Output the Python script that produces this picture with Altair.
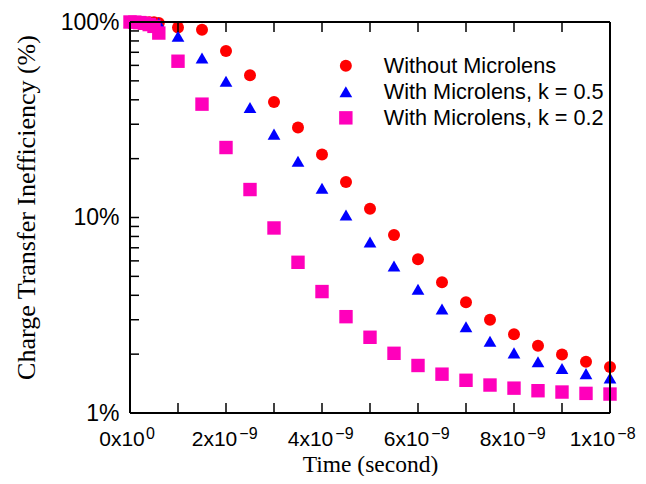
import json
import altair as alt
import pandas as pd

# ---- data ----
times_ns = [0, 0.1, 0.2, 0.3, 0.4, 0.5, 0.6, 1.0, 1.5, 2.0, 2.5, 3.0, 3.5, 4.0, 4.5,
            5.0, 5.5, 6.0, 6.5, 7.0, 7.5, 8.0, 8.5, 9.0, 9.5, 10.0]
without_microlens = [100, 100, 100, 99.9, 99.8, 99.6, 98.8, 93.6, 91.4, 71.1, 53.4, 39.0, 28.9,
                     21.0, 15.2, 11.1, 8.14, 6.12, 4.67, 3.69, 3.0, 2.53, 2.21, 1.99, 1.83, 1.72]
with_k05 = [100, 100, 100, 99.8, 99.5, 99.0, 98.5, 84.5, 65.5, 49.8, 36.5, 26.7, 19.4,
            14.1, 10.3, 7.5, 5.65, 4.30, 3.40, 2.76, 2.33, 2.03, 1.83, 1.69, 1.59, 1.51]
with_k02 = [100, 99.8, 99.3, 98.5, 97.0, 95.0, 87.8, 63.0, 38.0, 22.8, 13.9, 8.84, 5.9,
            4.18, 3.11, 2.44, 2.02, 1.75, 1.58, 1.47, 1.39, 1.34, 1.30, 1.28, 1.26, 1.25]

series_names = ["Without Microlens", "With Microlens, k = 0.5", "With Microlens, k = 0.2"]
series_colors = ["#ff0000", "#0000ff", "#ff00bb"]
series_shapes = ["circle", "triangle-up", "square"]
series_sizes = [144, 180, 121]

x_tick_values = [0, 2e-9, 4e-9, 6e-9, 8e-9, 1e-8]
x_tick_mantissa = ["0x10", "2x10", "4x10", "6x10", "8x10", "1x10"]
x_tick_exponent = ["0", "\u22129", "\u22129", "\u22129", "\u22129", "\u22128"]
x_minor_ticks = [0, 1e-9, 2e-9, 3e-9, 4e-9, 5e-9, 6e-9, 7e-9, 8e-9, 9e-9, 1e-8]
y_tick_values = [1, 10, 100]
y_tick_labels = ["1%", "10%", "100%"]
y_minor_ticks = [1, 2, 3, 4, 5, 6, 7, 8, 9, 10, 20, 30, 40, 50, 60, 70, 80, 90, 100]

W, H = 480, 391

rows = []
for name, vals in zip(series_names, [without_microlens, with_k05, with_k02]):
    for t, v in zip(times_ns, vals):
        rows.append({"series": name, "time": t * 1e-9, "cti": v})
df = pd.DataFrame(rows)

x_scale = alt.Scale(domain=[0, 1e-8], nice=False, zero=False)
y_scale = alt.Scale(type="log", domain=[1, 100], nice=False)

y_label_expr = json.dumps(y_tick_labels) + "[round(log(datum.value) / log(10))]"

x_axis = alt.Axis(values=x_tick_values, labels=False, ticks=False,
                  domain=False, grid=False,
                  title="Time (second)", titleFont="Liberation Serif",
                  titleFontSize=23.5, titleFontWeight="normal", titleColor="black",
                  titleX=W / 2, titleY=58, titleAlign="center", titleBaseline="alphabetic")
y_axis = alt.Axis(values=y_tick_values, labelExpr=y_label_expr, ticks=False,
                  domain=False, grid=False, labelFont="Liberation Sans",
                  labelFontSize=23, labelColor="black", labelPadding=11,
                  labelFlush=False, labelOverlap=False,
                  title="Charge Transfer Inefficiency (%)",
                  titleFont="Liberation Serif", titleFontSize=26,
                  titleFontWeight="normal", titleColor="black",
                  titleX=-104, titleY=185, titleAngle=270, titleAlign="center",
                  titleBaseline="middle")

legend = alt.Legend(title=None, orient="none", legendX=205, legendY=33,
                    labelFont="Liberation Sans", labelFontSize=21.7, labelColor="black",
                    labelLimit=400, labelOffset=27, rowPadding=3, padding=0,
                    symbolStrokeWidth=0, symbolSize=115, symbolOpacity=1)

points = alt.Chart(df).mark_point(filled=True, opacity=1, strokeWidth=0).encode(
    x=alt.X("time:Q", scale=x_scale, axis=x_axis),
    y=alt.Y("cti:Q", scale=y_scale, axis=y_axis),
    color=alt.Color("series:N", scale=alt.Scale(domain=series_names, range=series_colors),
                    legend=legend),
    shape=alt.Shape("series:N", scale=alt.Scale(domain=series_names, range=series_shapes),
                    legend=legend),
    size=alt.Size("series:N", scale=alt.Scale(domain=series_names, range=series_sizes),
                  legend=None),
)

xt = pd.DataFrame({"time": x_minor_ticks})
yt = pd.DataFrame({"cti": y_minor_ticks})
xl = pd.DataFrame({"time": x_tick_values, "mant": x_tick_mantissa, "expo": x_tick_exponent})

tick_style = dict(color="black", strokeWidth=1.5)
x_ticks_bottom = alt.Chart(xt).mark_rule(**tick_style).encode(
    x=alt.X("time:Q", scale=x_scale, axis=x_axis), y=alt.value(H), y2=alt.value(H - 10))
x_ticks_top = alt.Chart(xt).mark_rule(**tick_style).encode(
    x=alt.X("time:Q", scale=x_scale, axis=x_axis), y=alt.value(0.5), y2=alt.value(10))
y_ticks_left = alt.Chart(yt).mark_rule(**tick_style).encode(
    y=alt.Y("cti:Q", scale=y_scale, axis=y_axis), x=alt.value(0.5), x2=alt.value(9))


def x_label_layers(filter_expr, mant_dx, expo_dx):
    base = alt.Chart(xl).transform_filter(filter_expr)
    mant = base.mark_text(align="right", baseline="alphabetic", dx=mant_dx,
                          font="Liberation Sans", fontSize=21, color="black").encode(
        x=alt.X("time:Q", scale=x_scale, axis=x_axis), y=alt.value(H + 32.5),
        text="mant:N")
    expo = base.mark_text(align="left", baseline="alphabetic", dx=expo_dx,
                          font="Liberation Sans", fontSize=16, color="black").encode(
        x=alt.X("time:Q", scale=x_scale, axis=x_axis), y=alt.value(H + 26),
        text="expo:N")
    return [mant, expo]


x_labels = (x_label_layers("datum.time == 0", 14.8, 16.0)
            + x_label_layers("datum.time > 0 && datum.time < 9.5e-9", 11.3, 13.3)
            + x_label_layers("datum.time >= 9.5e-9", 5.3, 7.3))

frame_style = dict(color="black", strokeWidth=2)
frame_left = alt.Chart(xt).mark_rule(**frame_style).encode(
    x=alt.X("min(time):Q", scale=x_scale, axis=x_axis))
frame_right = alt.Chart(xt).mark_rule(**frame_style).encode(
    x=alt.X("max(time):Q", scale=x_scale, axis=x_axis))
frame_bottom = alt.Chart(yt).mark_rule(**frame_style).encode(
    y=alt.Y("min(cti):Q", scale=y_scale, axis=y_axis))
frame_top = alt.Chart(yt).mark_rule(**frame_style).encode(
    y=alt.Y("max(cti):Q", scale=y_scale, axis=y_axis))

chart = alt.layer(points, x_ticks_bottom, x_ticks_top, y_ticks_left, *x_labels,
                  frame_left, frame_right, frame_bottom, frame_top).properties(
    width=W, height=H,
    autosize=alt.AutoSizeParams(type="none"),
    padding={"left": 122, "top": 14, "right": 28, "bottom": 63},
).configure_view(stroke=None).configure(background="white")

chart.save("out.html", embed_options={"renderer": "svg", "actions": False})
